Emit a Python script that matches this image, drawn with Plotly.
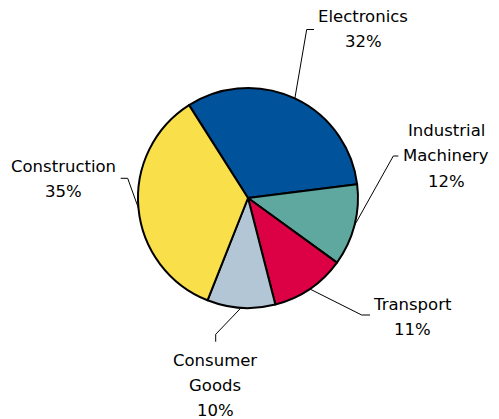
import math
import plotly.graph_objects as go

# ---- data ----
categories = ["Electronics", "Industrial Machinery", "Transport", "Consumer Goods", "Construction"]
values = [32, 12, 11, 10, 35]
label_lines = [["Electronics"], ["Industrial", "Machinery"], ["Transport"], ["Consumer", "Goods"], ["Construction"]]

# ---- style / layout ----
colors = ["#00529B", "#5FA8A0", "#DC0045", "#B3C6D6", "#F9E04B"]
W, H = 499, 419
CX, CY, R = 248, 198, 110          # pie centre / radius in pixels
ROT = -32.4                         # start angle of first slice (deg)
FONT = "DejaVu Sans"
FSIZE = 16.5
LINE_GAP = 25
# label block: (centre x, first line y) in pixels
label_pos = [(363, 17), (446, 131), (412, 304), (215, 360), (64, 166)]
# leader line elbow and end points in pixels
leader = [((306.7, 29.5), (314, 29.5)),
          ((393.3, 156), (398.3, 156)),
          ((361.7, 315), (370, 315)),
          ((215.7, 334.3), (215.7, 341.7)),
          ((127.7, 178.3), (120.7, 178.3))]


def px(x, y):
    return x / W, 1 - y / H


fig = go.Figure(go.Pie(
    labels=categories,
    values=values,
    sort=False,
    direction="clockwise",
    rotation=ROT,
    marker=dict(colors=colors, line=dict(color="black", width=2)),
    textinfo="none",
    hoverinfo="label+percent",
    showlegend=False,
    domain=dict(x=[(CX - R) / W, (CX + R) / W], y=[(H - CY - R) / H, (H - CY + R) / H]),
))

total = sum(values)
acc = 0.0
annotations = []
shapes = []
for lines, v, (lx, ly), (elb, end) in zip(label_lines, values, label_pos, leader):
    mid = ROT + (acc + v / 2) / total * 360.0
    acc += v
    a = math.radians(mid)
    tx = CX + R * math.sin(a)
    ty = CY - R * math.cos(a)
    pct = round(v / total * 100)
    all_lines = lines + [f"{pct}%"]
    for i, t in enumerate(all_lines):
        x, y = px(lx, ly + i * LINE_GAP)
        annotations.append(dict(
            x=x, y=y, xref="paper", yref="paper", showarrow=False,
            xanchor="center", yanchor="middle", text=t,
            font=dict(family=FONT, size=FSIZE, color="black"),
        ))
    p0, p1, p2 = px(tx, ty), px(*elb), px(*end)
    shapes.append(dict(
        type="path", xref="paper", yref="paper",
        path=f"M {p0[0]} {p0[1]} L {p1[0]} {p1[1]} L {p2[0]} {p2[1]}",
        line=dict(color="black", width=1),
    ))

fig.update_layout(
    width=W, height=H,
    margin=dict(l=0, r=0, t=0, b=0),
    paper_bgcolor="white", plot_bgcolor="white",
    annotations=annotations,
    shapes=shapes,
)

fig.write_html("out.html")
